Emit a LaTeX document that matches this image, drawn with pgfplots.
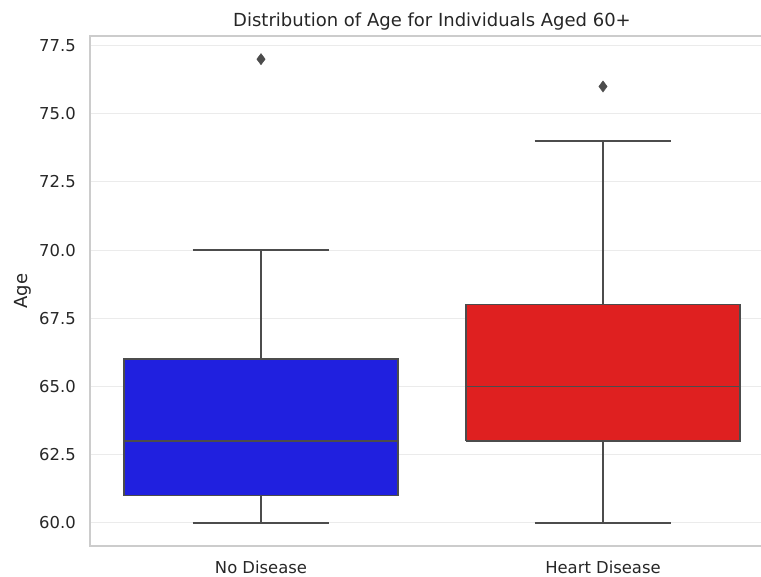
\documentclass[border=0pt]{standalone}
\usepackage{fontspec}
\setmainfont{DejaVu Sans}
\usepackage{pgfplots}
\pgfplotsset{compat=1.18}
\definecolor{boxblue}{rgb}{0.125,0.125,0.875}
\definecolor{boxred}{rgb}{0.875,0.125,0.125}
\definecolor{linegray}{rgb}{0.3,0.3,0.3}
\definecolor{spinegray}{HTML}{CCCCCC}
\definecolor{gridgray}{HTML}{EBEBEB}
\definecolor{textgray}{HTML}{262626}
\begin{document}
\begin{tikzpicture}
\path[use as bounding box] (-67.5pt,-22.5pt) rectangle (503.25pt,409.5pt);
\begin{axis}[
  at={(0pt,0pt)}, anchor=south west,
  scale only axis, width=513pt, height=382.5pt,
  xmin=-0.5, xmax=1.5, ymin=59.15, ymax=77.85,
  xtick={0,1}, xticklabels={No Disease, Heart Disease},
  ytick={60,62.5,65,67.5,70,72.5,75,77.5},
  yticklabels={60.0,62.5,65.0,67.5,70.0,72.5,75.0,77.5},
  major tick length=0pt,
  ymajorgrids, xmajorgrids=false,
  major grid style={draw=gridgray, line width=0.8pt},
  axis line style={draw=spinegray, line width=0.9pt},
  ticklabel style={font=\fontsize{12.3}{14}\selectfont, text=textgray},
  yticklabel style={anchor=east, inner sep=0pt, xshift=-10.5pt},
  xticklabel style={anchor=base, inner sep=0pt, yshift=-20.25pt},
  title={Distribution of Age for Individuals Aged 60+},
  title style={at={(0.5,1)}, anchor=base, inner sep=0pt, yshift=0.75pt, font=\fontsize{13.5}{16}\selectfont, text=textgray},
  ylabel={Age},
  ylabel style={at={(axis description cs:-0.0921,0.5)}, anchor=base, inner sep=0pt, font=\fontsize{13.5}{16}\selectfont, text=textgray},
  every axis plot/.append style={draw=linegray, line width=1.1pt, line join=miter},
]
% --- No Disease: whiskers 60/70, quartiles 61/66, median 63, outlier 77
\addplot[mark=none] coordinates {(0,61) (0,60)};
\addplot[mark=none] coordinates {(-0.2,60) (0.2,60)};
\addplot[mark=none] coordinates {(0,66) (0,70)};
\addplot[mark=none] coordinates {(-0.2,70) (0.2,70)};
\addplot[fill=boxblue, mark=none] coordinates {(-0.4,61) (0.4,61) (0.4,66) (-0.4,66) (-0.4,61)};
\addplot[mark=none] coordinates {(-0.4,63) (0.4,63)};
\addplot[only marks, mark=diamond*, mark size=4.2pt, mark options={fill=linegray, draw=linegray, line width=0.3pt}] coordinates {(0,77)};
% --- Heart Disease: whiskers 60/74, quartiles 63/68, median 65, outlier 76
\addplot[mark=none] coordinates {(1,63) (1,60)};
\addplot[mark=none] coordinates {(0.8,60) (1.2,60)};
\addplot[mark=none] coordinates {(1,68) (1,74)};
\addplot[mark=none] coordinates {(0.8,74) (1.2,74)};
\addplot[fill=boxred, mark=none] coordinates {(0.6,63) (1.4,63) (1.4,68) (0.6,68) (0.6,63)};
\addplot[mark=none] coordinates {(0.6,65) (1.4,65)};
\addplot[only marks, mark=diamond*, mark size=4.2pt, mark options={fill=linegray, draw=linegray, line width=0.3pt}] coordinates {(1,76)};
\end{axis}
\end{tikzpicture}
\end{document}
